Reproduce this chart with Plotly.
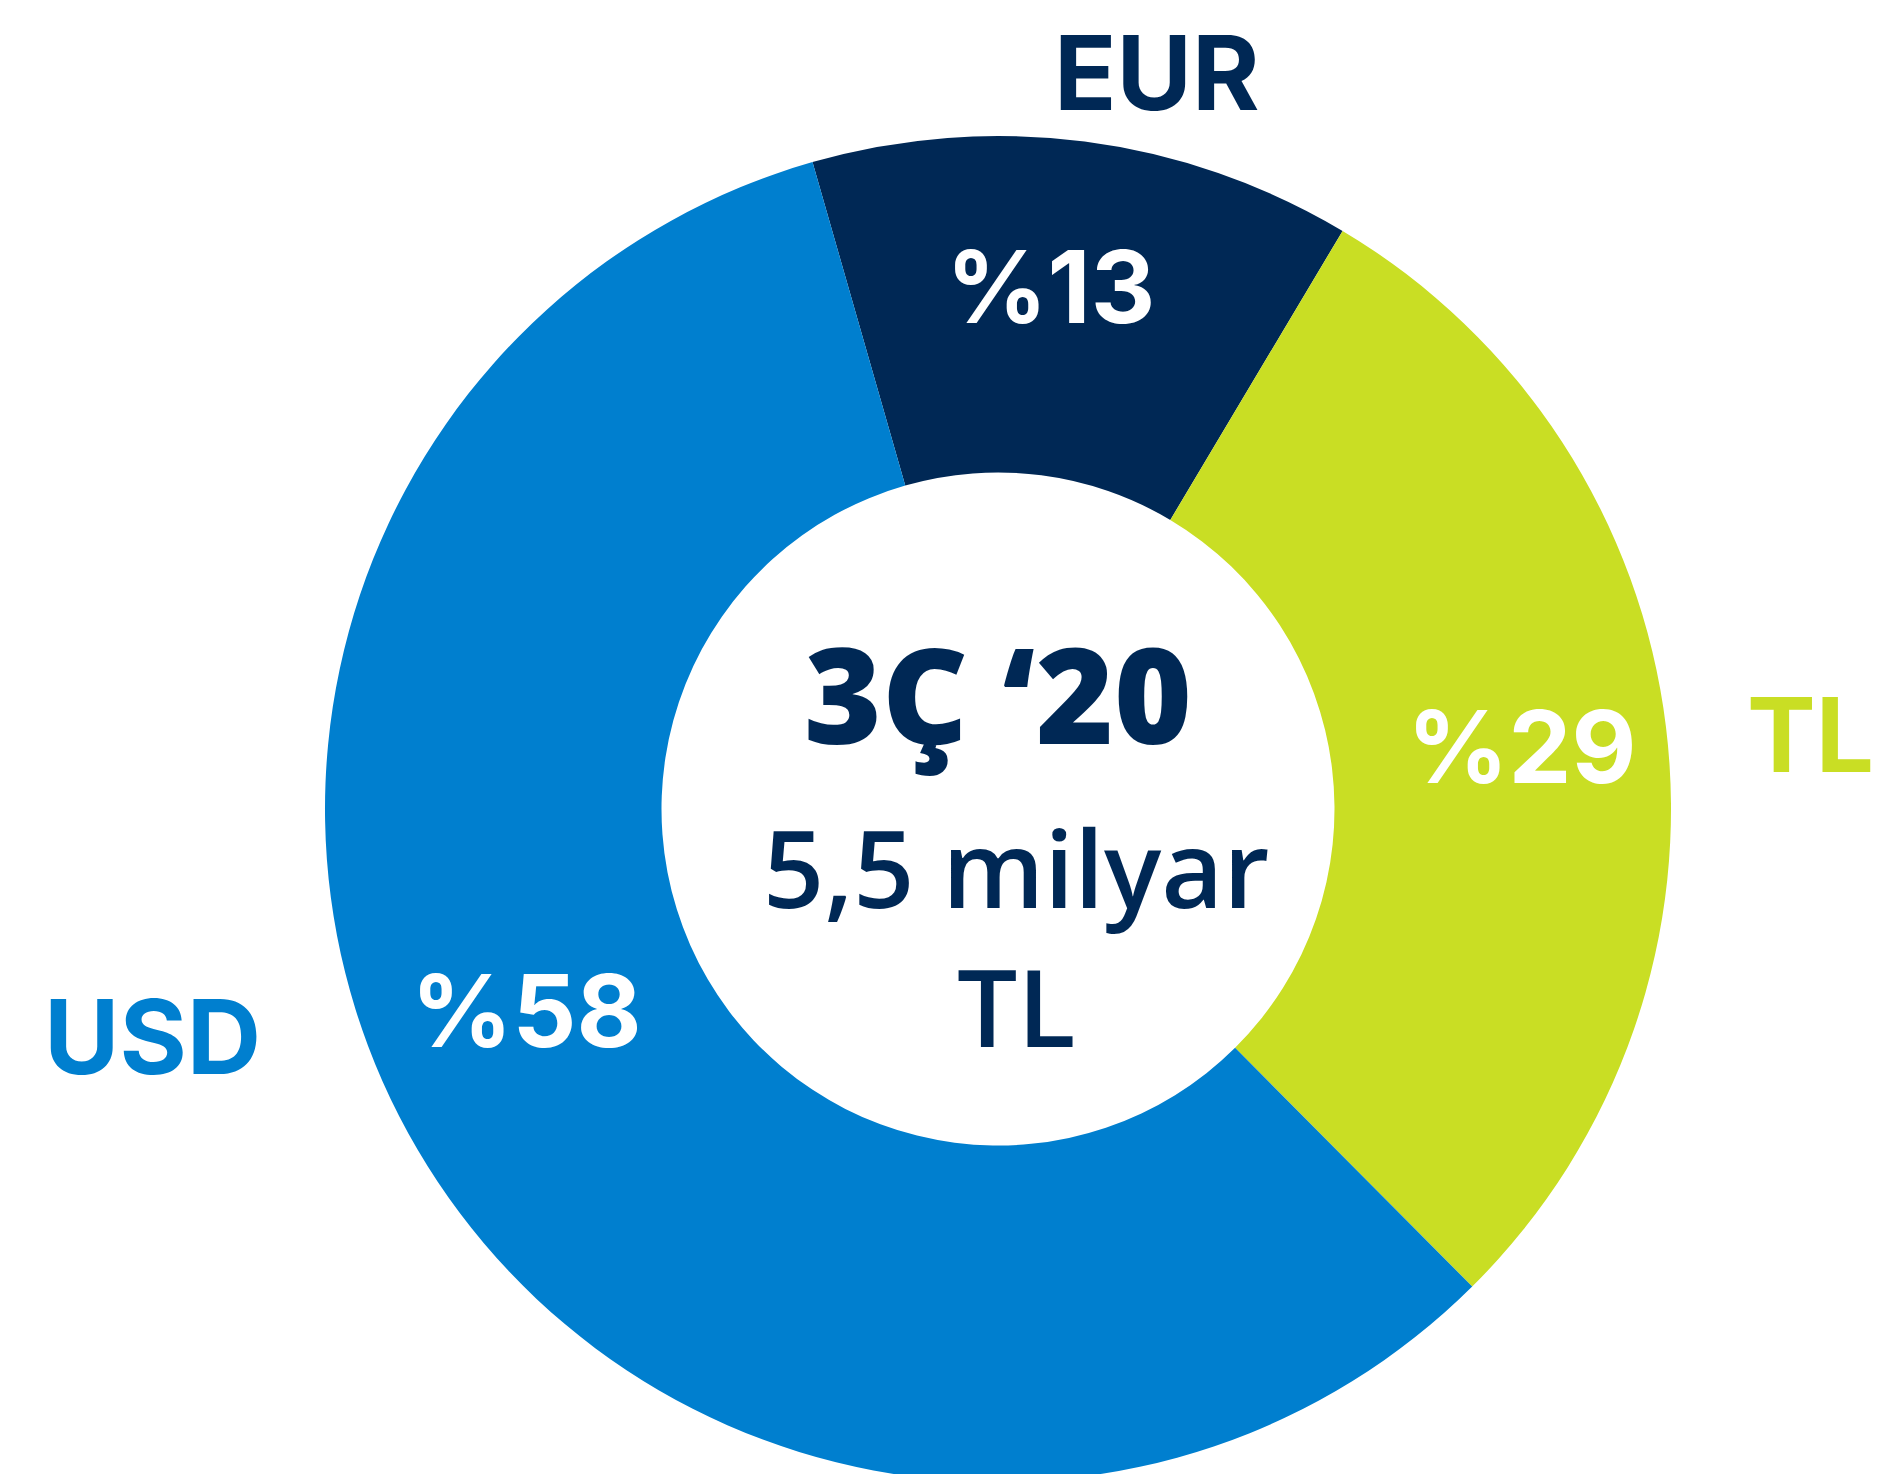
import plotly.graph_objects as go

# Data
categories = ["EUR", "TL", "USD"]
shares = [13, 29, 58]
colors = ["#002855", "#C9DE24", "#007FCF"]
center_title = "3Ç ‘20"
center_value = "5,5 milyar<br>TL"

W, H = 1885, 1474
LABEL_FONT = "Inter"
CENTER_FONT = "Open Sans"
NAVY = "#002855"

# page offset of the figure (default body margin)
OFF = 8

fig = go.Figure()
cx, cy, R = 998 - OFF, 809 - OFF, 673
fig.add_trace(go.Pie(
    labels=categories,
    values=shares,
    marker=dict(colors=colors, line=dict(width=0)),
    hole=0.5,
    sort=False,
    direction="clockwise",
    rotation=-16,
    textinfo="none",
    domain=dict(x=[(cx - R) / W, (cx + R) / W], y=[max(0, (H - cy - R) / H), (H - cy + R) / H]),
    showlegend=False,
    hoverinfo="label+percent",
))


def px(x, y):
    return (x - OFF) / W, 1 - (y - OFF) / H


ann = []
# category names outside the ring
label_pos = {"TL": (1810, 735), "USD": (152, 1036)}
for cat, col in zip(categories, colors):
    if cat == "EUR":
        ann.append(dict(x=(1157 - OFF) / W, y=1, xref="paper", yref="paper", text=cat,
                        showarrow=False,
                        font=dict(size=103, color=col, family=LABEL_FONT, weight=700),
                        xanchor="center", yanchor="top"))
        continue
    x, y = px(*label_pos[cat])
    ann.append(dict(x=x, y=y, xref="paper", yref="paper", text=cat, showarrow=False,
                    font=dict(size=103, color=col, family=LABEL_FONT, weight=700),
                    xanchor="center", yanchor="middle"))

# percentage labels inside the slices
pct_pos = {"EUR": (1050, 286), "TL": (1522, 746), "USD": (526, 1011)}
for cat, v in zip(categories, shares):
    x, y = px(*pct_pos[cat])
    ann.append(dict(x=x, y=y, xref="paper", yref="paper", text=f"%{v}", showarrow=False,
                    font=dict(size=100, color="white", family=LABEL_FONT, weight=700),
                    xanchor="center", yanchor="middle"))

# centre texts
x, y = px(998, 693)
ann.append(dict(x=x, y=y, xref="paper", yref="paper", text=center_title, showarrow=False,
                font=dict(size=133, color=NAVY, family=CENTER_FONT, weight=800),
                xanchor="center", yanchor="middle"))
x, y = px(1016, 936)
ann.append(dict(x=x, y=y, xref="paper", yref="paper", text=center_value, showarrow=False,
                font=dict(size=107, color=NAVY, family=CENTER_FONT, weight=600),
                xanchor="center", yanchor="middle"))

fig.update_layout(
    width=W, height=H,
    margin=dict(l=0, r=0, t=0, b=0),
    paper_bgcolor="white", plot_bgcolor="white",
    annotations=ann,
)
fig.write_html("out.html")
